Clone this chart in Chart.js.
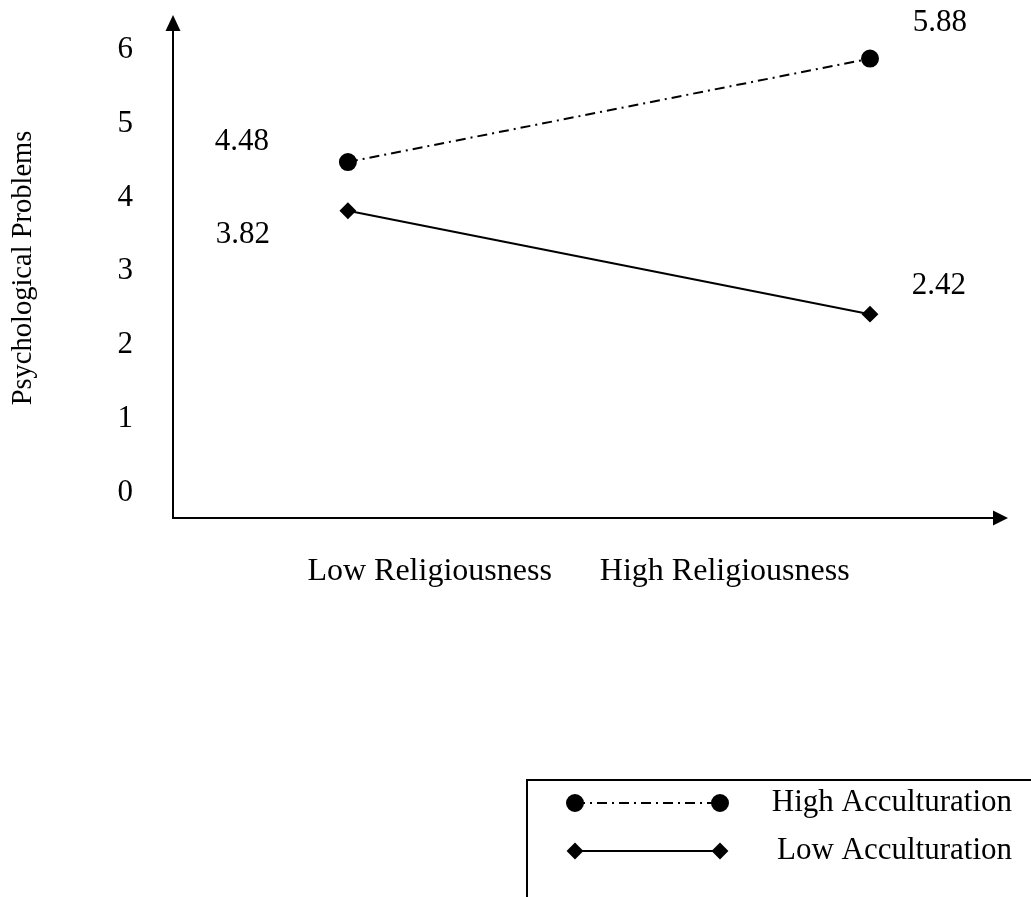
<!DOCTYPE html>
<html lang="en">
<head>
    <meta charset="UTF-8">
    <title>Psychological Problems by Religiousness</title>
    <script src="https://cdn.jsdelivr.net/npm/chart.js@4"></script>
    <style>
        html, body { margin: 0; padding: 0; background: #fff; }
        .chart-container { position: relative; width: 1031px; height: 897px; }
    </style>
</head>
<body>
<div class="chart-container">
    <canvas id="interactionChart"></canvas>
</div>

<script>
    // data
    const categories = ['Low Religiousness', 'High Religiousness'];
    const seriesNames = ['High Acculturation', 'Low Acculturation'];
    const highAcculturation = [4.48, 5.88];
    const lowAcculturation = [3.82, 2.42];
    const yTickValues = [0, 1, 2, 3, 4, 5, 6];
    const yAxisTitle = 'Psychological Problems';

    const FONT = "'Liberation Serif', 'Times New Roman', serif";

    function toPoints(values) {
        return values.map((v, i) => ({ x: i, y: v }));
    }

    // arrow heads on both axes
    const axisArrows = {
        id: 'axisArrows',
        afterDraw(chart) {
            const { ctx, chartArea: a } = chart;
            ctx.save();
            ctx.fillStyle = '#000';
            ctx.beginPath();
            ctx.moveTo(a.left, a.top - 3);
            ctx.lineTo(a.left - 7.5, a.top + 13);
            ctx.lineTo(a.left + 7.5, a.top + 13);
            ctx.closePath();
            ctx.fill();
            ctx.beginPath();
            ctx.moveTo(a.right + 8, a.bottom);
            ctx.lineTo(a.right - 7, a.bottom - 7.5);
            ctx.lineTo(a.right - 7, a.bottom + 7.5);
            ctx.closePath();
            ctx.fill();
            ctx.restore();
        }
    };

    // numbers next to each point: left column / right column offsets
    const labelOffsets = [
        [{ dx: -106, dy: -20 }, { dx: 70, dy: -36 }],
        [{ dx: -105, dy: 24 }, { dx: 69, dy: -28 }]
    ];
    const valueLabels = {
        id: 'valueLabels',
        afterDatasetsDraw(chart) {
            const { ctx } = chart;
            ctx.save();
            ctx.font = '31px ' + FONT;
            ctx.fillStyle = '#000';
            ctx.textAlign = 'center';
            ctx.textBaseline = 'middle';
            chart.data.datasets.forEach((ds, di) => {
                const meta = chart.getDatasetMeta(di);
                meta.data.forEach((pt, i) => {
                    const off = labelOffsets[di][i];
                    ctx.fillText(ds.data[i].y.toFixed(2), pt.x + off.dx, pt.y + off.dy);
                });
            });
            ctx.restore();
        }
    };

    // boxed legend at the bottom right, line + both markers
    const boxLegend = {
        id: 'boxLegend',
        afterDraw(chart) {
            const { ctx } = chart;
            const left = 527, top = 780;
            ctx.save();
            ctx.strokeStyle = '#000';
            ctx.lineWidth = 2;
            ctx.strokeRect(left, top, chart.width, chart.height);

            chart.data.datasets.forEach((ds, di) => {
                const y = 803 + di * 48;
                const x1 = 575, x2 = 720;
                ctx.lineWidth = ds.borderWidth;
                ctx.setLineDash(ds.borderDash || []);
                ctx.beginPath();
                ctx.moveTo(x1, y);
                ctx.lineTo(x2, y);
                ctx.stroke();
                ctx.setLineDash([]);
                [x1, x2].forEach(x => {
                    Chart.helpers.drawPoint(ctx, {
                        pointStyle: ds.pointStyle,
                        radius: ds.pointRadius,
                        borderWidth: 1
                    }, x, y);
                    ctx.fillStyle = '#000';
                    ctx.fill();
                });
                ctx.font = '31px ' + FONT;
                ctx.fillStyle = '#000';
                ctx.textAlign = 'right';
                ctx.textBaseline = 'middle';
                ctx.fillText(ds.label, 1012, y);
            });
            ctx.restore();
        }
    };

    const ctx = document.getElementById('interactionChart').getContext('2d');
    new Chart(ctx, {
        type: 'line',
        data: {
            datasets: [{
                label: seriesNames[0],
                data: toPoints(highAcculturation),
                borderColor: '#000',
                backgroundColor: '#000',
                borderWidth: 2,
                borderDash: [10, 5, 2, 5],
                pointStyle: 'circle',
                pointRadius: 8,
                pointBackgroundColor: '#000',
                pointBorderColor: '#000'
            }, {
                label: seriesNames[1],
                data: toPoints(lowAcculturation),
                borderColor: '#000',
                backgroundColor: '#000',
                borderWidth: 2,
                pointStyle: 'rectRot',
                pointRadius: 7,
                pointBackgroundColor: '#000',
                pointBorderColor: '#000'
            }]
        },
        options: {
            responsive: true,
            maintainAspectRatio: false,
            animation: false,
            layout: { padding: { top: 18, right: 31, left: 0, bottom: 0 } },
            plugins: {
                legend: { display: false },
                tooltip: { enabled: false }
            },
            scales: {
                x: {
                    type: 'linear',
                    min: -0.335,
                    max: 1.249,
                    grid: { display: false, drawTicks: false },
                    border: { display: true, color: '#000', width: 2 },
                    ticks: { display: false },
                    title: {
                        display: true,
                        text: categories.join('      ') + '  ',
                        color: '#000',
                        font: { family: FONT, size: 32 },
                        padding: { top: 0, bottom: 306 }
                    },
                    afterFit(scale) { scale.height = 379; }
                },
                y: {
                    min: -0.34,
                    max: 6.43,
                    grid: { display: false, drawTicks: false },
                    border: { display: true, color: '#000', width: 2 },
                    afterBuildTicks(scale) {
                        scale.ticks = yTickValues.map(v => ({ value: v }));
                    },
                    ticks: {
                        color: '#000',
                        padding: 40,
                        font: { family: FONT, size: 31 }
                    },
                    title: {
                        display: true,
                        text: yAxisTitle,
                        color: '#000',
                        font: { family: FONT, size: 28.5 },
                        padding: { top: 6, bottom: 0 }
                    },
                    afterFit(scale) {
                        scale.width = 173;
                        scale.paddingTop = 0;
                        scale.paddingBottom = 0;
                    }
                }
            }
        },
        plugins: [axisArrows, valueLabels, boxLegend]
    });
</script>
</body>
</html>
